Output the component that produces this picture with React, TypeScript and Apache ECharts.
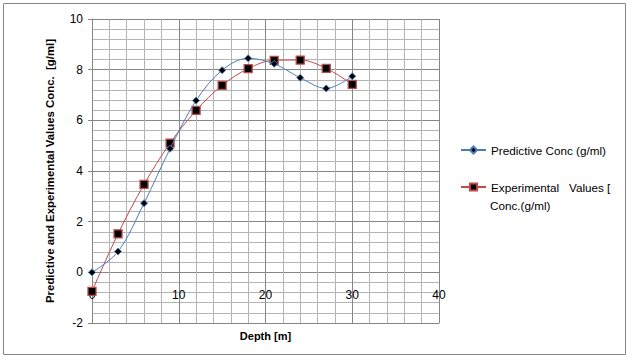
import React, { useEffect, useRef } from "react";
import * as echarts from "echarts";

const depth = [0, 3, 6, 9, 12, 15, 18, 21, 24, 27, 30];
const predictive = [0, 0.82, 2.73, 4.88, 6.78, 7.98, 8.45, 8.23, 7.68, 7.26, 7.74];
const experimental = [-0.75, 1.52, 3.47, 5.1, 6.39, 7.38, 8.04, 8.37, 8.38, 8.05, 7.42];
const predictiveName = "Predictive Conc (g/ml)";
const experimentalName = "Experimental   Values [ Conc.(g/ml)";
const experimentalLine1 = "Experimental   Values [";
const experimentalLine2 = "Conc.(g/ml)";
const xTitle = "Depth [m]";
const yTitle = "Predictive and Experimental Values Conc.  [g/ml]";

const FONT = "Liberation Sans";

export default function App() {
  const ref = useRef<HTMLDivElement>(null);
  useEffect(() => {
    document.body.style.margin = "0";
    const chart = echarts.init(ref.current!, null, { renderer: "svg" });
    const pairs = (ys: number[]) => depth.map((d, i) => [d, ys[i]]);
    chart.setOption({
      animation: false,
      backgroundColor: "#ffffff",
      textStyle: { fontFamily: FONT },
      grid: { left: 92, right: 190, top: 19, bottom: 34, containLabel: false, outerBoundsMode: "none" },
      xAxis: {
        type: "value",
        min: 0,
        max: 40,
        interval: 10,
        name: xTitle,
        nameLocation: "middle",
        nameGap: 7,
        nameTextStyle: { fontFamily: FONT, fontSize: 11, fontWeight: "bold", color: "#000" },
        axisLine: { onZero: false, lineStyle: { color: "#868686", width: 1 } },
        axisTick: { show: false },
        axisLabel: { margin: -34, fontSize: 12, color: "#000", fontFamily: FONT, showMinLabel: true, hideOverlap: false },
        splitLine: { show: true, lineStyle: { color: "#868686", width: 1 } },
        minorTick: { show: false, splitNumber: 5 },
        minorSplitLine: { show: true, lineStyle: { color: "#b4b4b4", width: 1 } },
      },
      yAxis: {
        type: "value",
        min: -2,
        max: 10,
        interval: 2,
        name: yTitle,
        nameLocation: "middle",
        nameGap: 37,
        nameTextStyle: { fontFamily: FONT, fontSize: 11.4, fontWeight: "bold", color: "#000" },
        axisLine: { show: true, onZero: false, lineStyle: { color: "#868686", width: 1 } },
        axisTick: { show: true, length: 4, lineStyle: { color: "#868686" } },
        axisLabel: { margin: 9, fontSize: 12, color: "#000", fontFamily: FONT },
        splitLine: { show: true, lineStyle: { color: "#868686", width: 1 } },
        minorTick: { show: false, splitNumber: 5 },
        minorSplitLine: { show: true, lineStyle: { color: "#b4b4b4", width: 1 } },
      },
      legend: {
        orient: "vertical",
        left: 455,
        top: 139,
        itemGap: 25,
        itemWidth: 25,
        itemHeight: 9,
        data: [predictiveName, experimentalName],
        formatter: (n: string) => (n === experimentalName ? experimentalLine1 : n),
        textStyle: { fontFamily: FONT, fontSize: 11.7, color: "#000" },
      },
      graphic: [
        {
          type: "rect",
          shape: { x: 3.5, y: 3.5, width: 622, height: 351 },
          style: { fill: "none", stroke: "#868686", lineWidth: 1 },
          silent: true,
        },
        {
          type: "text",
          left: 490,
          top: 199,
          style: { text: experimentalLine2, fontFamily: FONT, fontSize: 11.7, fill: "#000" },
          silent: true,
        },
      ],
      series: [
        {
          name: predictiveName,
          type: "line",
          data: pairs(predictive),
          smooth: 0.35,
          symbol: "diamond",
          symbolSize: 7,
          lineStyle: { color: "#4a7ebb", width: 1 },
          itemStyle: { color: "#000", borderColor: "#4a7ebb", borderWidth: 1 },
          z: 3,
        },
        {
          name: experimentalName,
          type: "line",
          data: pairs(experimental),
          smooth: 0.35,
          symbol: "rect",
          symbolSize: 8,
          lineStyle: { color: "#be4b48", width: 1 },
          itemStyle: { color: "#000", borderColor: "#be4b48", borderWidth: 1.3 },
          z: 2,
        },
      ],
    });
    return () => chart.dispose();
  }, []);
  return <div ref={ref} style={{ position: "absolute", left: 0, top: 0, width: 629, height: 357 }} />;
}
